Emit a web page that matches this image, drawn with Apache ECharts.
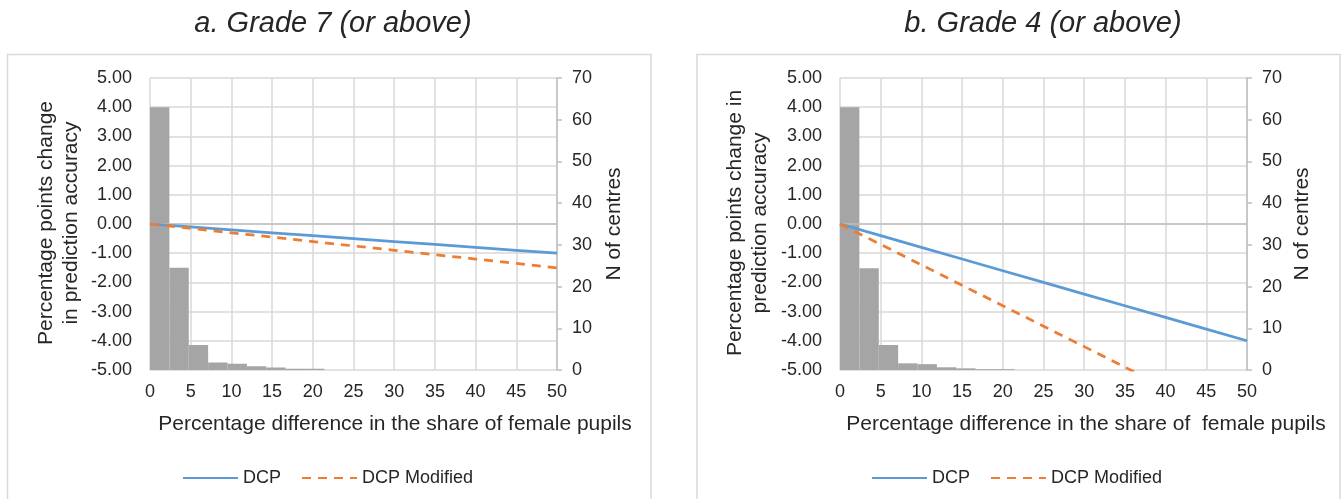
<!DOCTYPE html>
<html>
<head>
<meta charset="utf-8">
<script src="https://cdn.jsdelivr.net/npm/echarts@6/dist/echarts.min.js"></script>
<style>
  html, body { margin: 0; padding: 0; background: #ffffff; }
  #chart { width: 1342px; height: 499px; }
</style>
</head>
<body>
<div id="chart"></div>
<script>
// Percentage difference in the share of female pupils (x positions of the line points)
const xValues = [0, 5, 10, 15, 20, 25, 30, 35, 40, 45, 50];
const xTickLabels = ['0', '5', '10', '15', '20', '25', '30', '35', '40', '45', '50'];

// a. Grade 7 (or above): change in prediction accuracy (percentage points)
const dcpGrade7 = [0, -0.1, -0.2, -0.3, -0.4, -0.5, -0.6, -0.7, -0.8, -0.9, -1.0];
const dcpModGrade7 = [0, -0.15, -0.3, -0.45, -0.6, -0.75, -0.9, -1.05, -1.2, -1.35, -1.5];

// b. Grade 4 (or above): change in prediction accuracy (percentage points)
const dcpGrade4 = [0, -0.4, -0.8, -1.2, -1.6, -2.0, -2.4, -2.8, -3.2, -3.6, -4.0];
const dcpModGrade4 = [0, -0.7, -1.4, -2.1, -2.8, -3.5, -4.2, -4.9, -5.6, -6.3, -7.0];

// Histogram bins (lower edge of each bin) and number of centres per bin
const bins = ['0', '2.4', '4.8', '7.1', '9.5', '11.9', '14.3', '16.7', '19.0', '21.4', '23.8',
              '26.2', '28.6', '31.0', '33.3', '35.7', '38.1', '40.5', '42.9', '45.2', '47.6'];
const centresGrade7 = [63, 24.5, 6, 1.8, 1.5, 0.9, 0.6, 0.3, 0.3, 0, 0, 0, 0, 0, 0, 0, 0, 0, 0, 0, 0];
const centresGrade4 = [63, 24.4, 6, 1.6, 1.4, 0.65, 0.4, 0.2, 0.2, 0, 0, 0, 0, 0, 0, 0, 0, 0, 0, 0, 0];

// Left/right y-axis tick labels
const leftTicks = ['-5.00', '-4.00', '-3.00', '-2.00', '-1.00', '0.00', '1.00', '2.00', '3.00', '4.00', '5.00'];
const rightTicks = ['0', '10', '20', '30', '40', '50', '60', '70'];

const FONT = '"Liberation Sans", Arial, sans-serif';
const TXT = '#262626';
const GRID_C = '#D9D9D9';
const AXIS_C = '#BFBFBF';
const BLUE = '#5B9BD5';
const ORANGE = '#ED7D31';
const GREY = '#A5A5A5';

const pairs = (ys) => xValues.map((x, i) => [x, ys[i]]);

function valueXAxis(gridIndex) {
  return {
    type: 'value', gridIndex, min: 0, max: 50, interval: 5,
    axisLine: { show: false, onZero: false },
    axisTick: { show: false },
    splitLine: { show: true, lineStyle: { color: GRID_C, width: 1.5 } },
    axisLabel: {
      color: TXT, fontSize: 18, fontFamily: FONT, margin: 13,
      formatter: (v) => xTickLabels[xValues.indexOf(v)] ?? String(v)
    }
  };
}
function binXAxis(gridIndex) {
  return { type: 'category', gridIndex, data: bins, show: false, boundaryGap: true };
}
function leftYAxis(gridIndex) {
  return {
    type: 'value', gridIndex, min: -5, max: 5, interval: 1, position: 'left',
    axisLine: { show: false }, axisTick: { show: false },
    splitLine: { show: true, lineStyle: { color: GRID_C, width: 1.5 } },
    axisLabel: {
      color: TXT, fontSize: 18, fontFamily: FONT, margin: 18,
      formatter: (v) => leftTicks[Math.round(v) + 5]
    }
  };
}
function rightYAxis(gridIndex) {
  return {
    type: 'value', gridIndex, min: 0, max: 70, interval: 10, position: 'right',
    axisLine: { show: true, lineStyle: { color: AXIS_C, width: 1.5 } },
    axisTick: { show: true, inside: false, length: 5, lineStyle: { color: AXIS_C, width: 1.5 } },
    splitLine: { show: false },
    axisLabel: {
      color: TXT, fontSize: 18, fontFamily: FONT, margin: 15,
      formatter: (v) => rightTicks[Math.round(v / 10)]
    }
  };
}

function panelSeries(xv, xb, yl, yr, centres, dcp, dcpMod) {
  return [
    {
      name: 'N of centres', type: 'bar', xAxisIndex: xb, yAxisIndex: yr,
      data: centres, barWidth: '100%', barGap: '0%',
      itemStyle: { color: GREY }, z: 1, silent: true
    },
    {
      name: 'DCP', type: 'line', xAxisIndex: xv, yAxisIndex: yl,
      data: pairs(dcp), symbol: 'none', clip: true, z: 3,
      lineStyle: { color: BLUE, width: 2.75 }, itemStyle: { color: BLUE },
      markLine: {
        silent: true, symbol: ['none', 'none'], label: { show: false },
        lineStyle: { color: AXIS_C, width: 1.5, type: 'solid' },
        data: [{ yAxis: 0 }], z: 2
      }
    },
    {
      name: 'DCP Modified', type: 'line', xAxisIndex: xv, yAxisIndex: yl,
      data: pairs(dcpMod), symbol: 'none', clip: true, z: 4,
      lineStyle: { color: ORANGE, width: 2.75, type: [9, 7] }, itemStyle: { color: ORANGE }
    }
  ];
}

function text(x, y, str, size, opts = {}) {
  return {
    type: 'text', x, y, rotation: opts.rotation || 0, silent: true,
    style: {
      text: str, fill: TXT, align: 'center', verticalAlign: 'middle',
      font: (opts.italic ? 'italic ' : '') + size + 'px ' + FONT,
      lineHeight: opts.lineHeight || size * 1.2
    }
  };
}

function legendAt(left) {
  return {
    left, top: 469, itemWidth: 55, itemHeight: 14, itemGap: 20, padding: 0,
    data: ['DCP', 'DCP Modified'], selectedMode: false,
    itemStyle: { opacity: 0 },
    textStyle: { color: TXT, fontSize: 18, fontFamily: FONT }
  };
}

const chart = echarts.init(document.getElementById('chart'), null, { renderer: 'canvas' });

chart.setOption({
  animation: false,
  backgroundColor: '#ffffff',
  grid: [
    { left: 150, top: 78, width: 407, height: 292, containLabel: false },
    { left: 840, top: 78, width: 407, height: 292, containLabel: false }
  ],
  xAxis: [valueXAxis(0), binXAxis(0), valueXAxis(1), binXAxis(1)],
  yAxis: [leftYAxis(0), rightYAxis(0), leftYAxis(1), rightYAxis(1)],
  legend: [legendAt(182), legendAt(871)],
  graphic: [
    { type: 'rect', silent: true, shape: { x: 7.5, y: 54.5, width: 643.5, height: 470 },
      style: { fill: 'none', stroke: GRID_C, lineWidth: 1.5 } },
    { type: 'rect', silent: true, shape: { x: 697, y: 54.5, width: 643, height: 470 },
      style: { fill: 'none', stroke: GRID_C, lineWidth: 1.5 } },
    text(333, 24, 'a. Grade 7 (or above)', 29, { italic: true }),
    text(1043, 24, 'b. Grade 4 (or above)', 29, { italic: true }),
    text(59, 223, 'Percentage points change\nin prediction accuracy', 21, { rotation: Math.PI / 2, lineHeight: 25 }),
    text(748, 223, 'Percentage points change in\nprediction accuracy', 21, { rotation: Math.PI / 2, lineHeight: 25 }),
    text(614, 224, 'N of centres', 21, { rotation: Math.PI / 2 }),
    text(1302, 224, 'N of centres', 21, { rotation: Math.PI / 2 }),
    text(395, 424, 'Percentage difference in the share of female pupils', 21),
    text(1086, 424, 'Percentage difference in the share of  female pupils', 21)
  ],
  series: [
    ...panelSeries(0, 1, 0, 1, centresGrade7, dcpGrade7, dcpModGrade7),
    ...panelSeries(2, 3, 2, 3, centresGrade4, dcpGrade4, dcpModGrade4)
  ]
});
</script>
</body>
</html>
